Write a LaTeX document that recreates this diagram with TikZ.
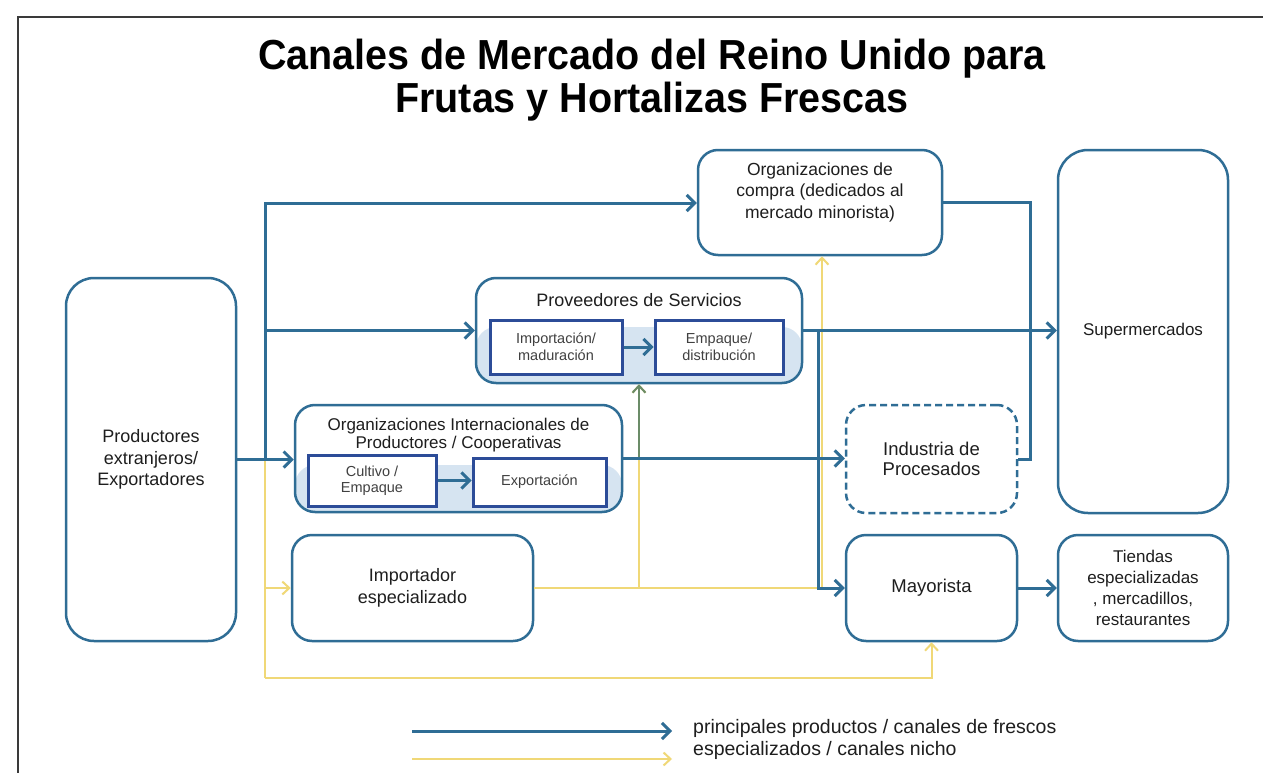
\documentclass[tikz,border=0pt]{standalone}
\usepackage{fontspec}
\setmainfont{Liberation Sans}
\newfontfamily\titlef[FakeStretch=0.94]{Liberation Sans}
\usetikzlibrary{arrows.meta}
\definecolor{blu}{HTML}{2F6D95}
\definecolor{navy}{HTML}{2C4C98}
\definecolor{band}{HTML}{D6E4F1}
\definecolor{yel}{HTML}{F0D877}
\definecolor{olv}{HTML}{6B8C68}
\definecolor{txtc}{HTML}{1E1E1E}
\definecolor{frm}{HTML}{3A3A3A}
\begin{document}
\begin{tikzpicture}[x=1pt,y=-1pt,
 box/.style={draw=blu, line width=2.5pt, rounded corners=20pt, fill=white, inner sep=0pt, align=center, text=txtc, font=\fontsize{18}{21.5}\selectfont},
 inbox/.style={draw=navy, line width=3pt, fill=white, inner sep=0pt, align=center, text=txtc!85, font=\fontsize{14.5}{17}\selectfont},
 txt/.style={align=center, text=txtc, inner sep=0pt},
 bl/.style={draw=blu, line width=3pt, -{Straight Barb[length=8pt,width=16pt]}},
 bln/.style={draw=blu, line width=3pt},
 yl/.style={draw=yel, line width=2pt, -{Straight Barb[length=7pt,width=13pt]}},
 yln/.style={draw=yel, line width=2pt},
 gl/.style={draw=olv, line width=2pt, -{Straight Barb[length=7pt,width=13pt]}},
]
\useasboundingbox (0,0) rectangle (1263,773);
\fill[white] (0,0) rectangle (1263,773);
% frame
\draw[frm, line width=2pt] (18,773) -- (18,17) -- (1263,17);
% title
\node[anchor=base, inner sep=0pt, font=\titlef\bfseries\fontsize{42}{44}\selectfont] (title1) at (652,70) {Canales de Mercado del Reino Unido para};
\node[anchor=base, inner sep=0pt, font=\titlef\bfseries\fontsize{42}{44}\selectfont] (title2) at (652,113) {Frutas y Hortalizas Frescas};

% boxes
\node[box, minimum width=170pt, minimum height=363pt, rounded corners=28pt] (prod) at (151,459.5) {Productores\\extranjeros/\\Exportadores};
\node[box, minimum width=244pt, minimum height=105pt] (orgc) at (820,202.5) {};
\node[txt, font=\fontsize{17.5}{21.5}\selectfont] (orgcT) at (820,192) {Organizaciones de\\compra (dedicados al\\mercado minorista)};
\node[box, minimum width=170pt, minimum height=363pt, rounded corners=30pt, font=\fontsize{17}{20}\selectfont] (sup) at (1143,331.5) {Supermercados};

\node[box, minimum width=326pt, minimum height=105pt,
  path picture={\fill[band] (path picture bounding box.south west) rectangle ([yshift=3.5pt]path picture bounding box.east);}] (prov) at (639,330.5) {};
\node[txt, font=\fontsize{18}{21}\selectfont] (provT) at (639,300) {Proveedores de Servicios};
\node[inbox, minimum width=132pt, minimum height=54pt] (imp1) at (556,347) {Importación/\\maduración};
\node[inbox, minimum width=128pt, minimum height=54pt] (emp1) at (719,347) {Empaque/\\distribución};

\node[box, minimum width=327pt, minimum height=107pt,
  path picture={\fill[band] (path picture bounding box.south west) rectangle ([yshift=-6.5pt]path picture bounding box.east);}] (oint) at (458.5,458.5) {};
\node[txt, font=\fontsize{17}{17.5}\selectfont] (ointT) at (458.5,435) {Organizaciones Internacionales de\\Productores / Cooperativas};
\node[inbox, minimum width=128pt, minimum height=51pt, font=\fontsize{14.5}{16.5}\selectfont] (cult) at (372,480.5) {Cultivo /\\Empaque};
\node[inbox, minimum width=133pt, minimum height=48pt] (expo) at (539.5,482) {Exportación};

\node[box, dash pattern=on 7pt off 4pt, minimum width=171pt, minimum height=108pt, font=\fontsize{18.5}{20.5}\selectfont] (ind) at (931.5,459) {Industria de\\Procesados};
\node[box, minimum width=241pt, minimum height=106pt, font=\fontsize{18}{22}\selectfont] (impe) at (412.5,588) {Importador\\especializado};
\node[box, minimum width=171pt, minimum height=106pt, font=\fontsize{18.5}{21}\selectfont] (may) at (931.5,588) {Mayorista};
\node[box, minimum width=170pt, minimum height=106pt, font=\fontsize{17}{21}\selectfont] (tie) at (1143,588) {Tiendas\\especializadas\\, mercadillos,\\restaurantes};

% helper coordinates
\coordinate (tA) at (265,203);
\coordinate (tB) at (265,330.5);
\coordinate (yB) at (265,678);
\coordinate (rA) at (1030,0);
\coordinate (mA) at (818,0);
\coordinate (mB) at (822,0);

% yellow (specialised) channels
\draw[yln] (tA |- prod.east) -- (yB);
\draw[yl] (yB) -| (may.south);
\draw[yl] (tA |- impe.west) -- (impe.west);
\draw[yl] (impe.east) -- (impe.east -| mB) -- (mB |- orgc.south);
\draw[yl] (prod.east -| prov.south) ++(0,128) -- (prov.south);
\draw[gl] (prov.south |- oint.east) -- (prov.south);

% blue (main) channels
\draw[bl] (tA |- prod.east) -- (tA) -- (tA -| orgc.west);
\draw[bl] (tB) -- (tB -| prov.west);
\draw[bl] (prod.east) -- (prod.east -| oint.west);
\draw[bln] (orgc.east) -- (orgc.east -| rA) -- (rA |- ind.east) -- (ind.east);
\draw[bl] (prov.east) -- (prov.east -| sup.west);
\draw[bl] (prov.east -| mA) -- (mA |- may.west) -- (may.west);
\draw[bl] (oint.east) -- (oint.east -| ind.west);
\draw[bl] (may.east) -- (tie.west);
\draw[bl] (imp1.east) -- (emp1.west);
\draw[bl] (cult.east) -- (cult.east -| expo.west);

% legend
\coordinate (lg1a) at (412,731);
\coordinate (lg1b) at (672,731);
\coordinate (lg2a) at (412,759);
\coordinate (lg2b) at (672,759);
\draw[bl] (lg1a) -- (lg1b);
\draw[yl] (lg2a) -- (lg2b);
\node[txt, anchor=west, font=\fontsize{19.5}{20}\selectfont] (lgT1) at (693,728) {principales productos / canales de frescos};
\node[txt, anchor=west, font=\fontsize{19.5}{20}\selectfont] (lgT2) at (693,750) {especializados / canales nicho};
\end{tikzpicture}
\end{document}
